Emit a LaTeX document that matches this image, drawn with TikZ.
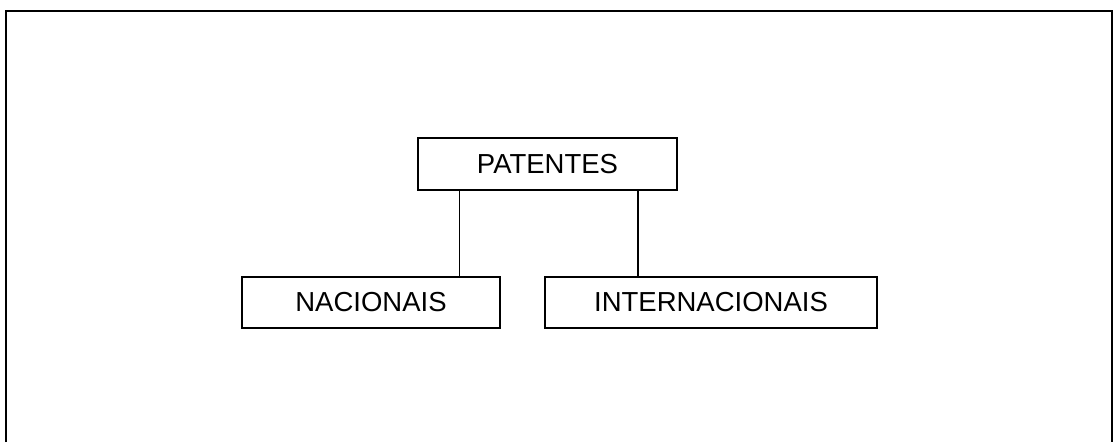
\documentclass[tikz,border=0pt]{standalone}
\usepackage{fontspec}
\setmainfont{Liberation Sans}

\tikzset{
	caixa/.style={draw, line width=1.5pt, inner sep=0pt, font=\fontsize{27.5}{32}\selectfont},
}

\begin{document}
\begin{tikzpicture}[x=1pt,y=-1pt,line width=1.5pt]
	\useasboundingbox (0,0) rectangle (1117,442);
	\draw (6,442) -- (6,11) -- (1112,11) -- (1112,442);
	\node[caixa, minimum width=259pt, minimum height=52pt] (patentes) at (547.5,164) {PATENTES};
	\node[caixa, minimum width=258pt, minimum height=51pt] (nacionais) at (371,302.5) {NACIONAIS};
	\node[caixa, minimum width=332pt, minimum height=51pt] (internacionais) at (711,302.5) {INTERNACIONAIS};
	\draw ([xshift=42pt]patentes.south west) -- ([xshift=42pt]patentes.south west |- nacionais.north);
	\draw ([xshift=-40pt]patentes.south east) -- ([xshift=-40pt]patentes.south east |- internacionais.north);
\end{tikzpicture}
\end{document}
